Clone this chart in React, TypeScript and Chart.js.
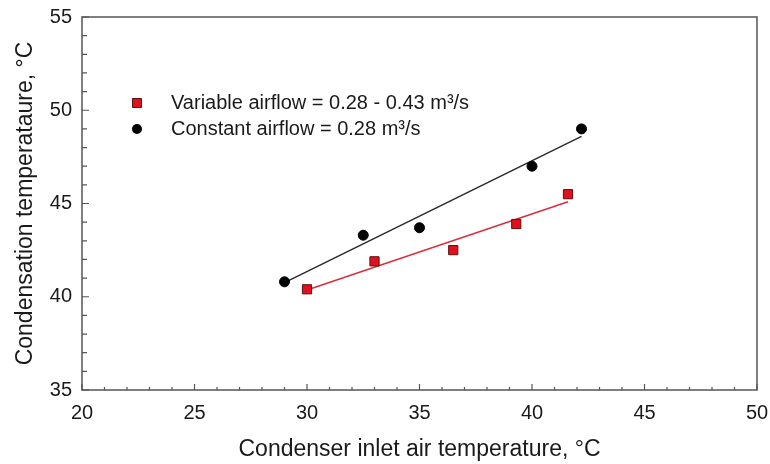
import { useEffect, useRef } from "react";
import { Chart, registerables } from "chart.js";

Chart.register(...registerables);

// Measured condensation temperatures (°C) against condenser inlet air temperature (°C)
const variableInletTemp = [30, 33, 36.5, 39.3, 41.6];
const variableCondTemp = [40.4, 41.9, 42.5, 43.9, 45.5];
const constantInletTemp = [29, 32.5, 35, 40, 42.2];
const constantCondTemp = [40.8, 43.3, 43.7, 47, 49];

const xTickValues = [20, 25, 30, 35, 40, 45, 50];
const yTickValues = [35, 40, 45, 50, 55];

const variableLabel = "Variable airflow = 0.28 - 0.43 m³/s";
const constantLabel = "Constant airflow = 0.28 m³/s";
const xTitle = "Condenser inlet air temperature, °C";
const yTitle = "Condensation temperataure, °C";

const FONT = "'Liberation Sans', Arial, Helvetica, sans-serif";
const TEXT = "#1a1a1a";
const AXIS = "#555555";
const RED = "#e0101e";
const RED_LINE = "#d8303a";

// Least-squares straight line through the points, spanning their x range
function linearFit(xs: number[], ys: number[]) {
  const n = xs.length;
  const mx = xs.reduce((a, b) => a + b, 0) / n;
  const my = ys.reduce((a, b) => a + b, 0) / n;
  let sxy = 0;
  let sxx = 0;
  for (let i = 0; i < n; i++) {
    sxy += (xs[i] - mx) * (ys[i] - my);
    sxx += (xs[i] - mx) * (xs[i] - mx);
  }
  const slope = sxy / sxx;
  const x0 = Math.min(...xs);
  const x1 = Math.max(...xs);
  return [
    { x: x0, y: my + slope * (x0 - mx) },
    { x: x1, y: my + slope * (x1 - mx) },
  ];
}

const toPoints = (xs: number[], ys: number[]) => xs.map((x, i) => ({ x, y: ys[i] }));

// Box frame with inward major/minor ticks
const framePlugin = {
  id: "frame",
  afterDatasetsDraw(chart: any) {
    const { ctx, chartArea, scales } = chart;
    const { left, right, top, bottom } = chartArea;
    ctx.save();
    ctx.strokeStyle = AXIS;
    ctx.lineWidth = 1.5;
    ctx.strokeRect(left, top, right - left, bottom - top);
    ctx.lineWidth = 1.2;
    ctx.beginPath();
    for (let v = 20; v <= 50; v += 1) {
      const px = scales.x.getPixelForValue(v);
      const len = v % 5 === 0 ? 6 : 3;
      ctx.moveTo(px, bottom);
      ctx.lineTo(px, bottom - len);
    }
    for (let v = 35; v <= 55; v += 1) {
      const py = scales.y.getPixelForValue(v);
      const len = v % 5 === 0 ? 7 : 5;
      ctx.moveTo(left, py);
      ctx.lineTo(left + len, py);
    }
    ctx.stroke();
    ctx.restore();
  },
};

// Legend drawn inside the plot area
const innerLegendPlugin = {
  id: "innerLegend",
  afterDraw(chart: any) {
    const { ctx } = chart;
    const items = [
      { ds: chart.data.datasets[0], text: variableLabel, y: 103 },
      { ds: chart.data.datasets[1], text: constantLabel, y: 129 },
    ];
    ctx.save();
    ctx.font = `20px ${FONT}`;
    ctx.textBaseline = "middle";
    ctx.textAlign = "left";
    for (const it of items) {
      ctx.fillStyle = it.ds.backgroundColor;
      ctx.strokeStyle = it.ds.borderColor;
      ctx.lineWidth = it.ds.borderWidth;
      if (it.ds.pointStyle === "rect") {
        ctx.beginPath();
        ctx.rect(137 - 4.5, it.y - 4.5, 9, 9);
        ctx.fill();
        ctx.stroke();
      } else {
        ctx.beginPath();
        ctx.arc(137, it.y, 5, 0, Math.PI * 2);
        ctx.fill();
      }
      ctx.fillStyle = TEXT;
      ctx.fillText(it.text, 171, it.y);
    }
    ctx.restore();
  },
};

// Fixed axis box sizes; label overhang is absorbed by the layout padding
const fixBox = (size: { width?: number; height?: number }) => (scale: any) => {
  if (size.width !== undefined) scale.width = size.width;
  if (size.height !== undefined) scale.height = size.height;
  scale.paddingLeft = 0;
  scale.paddingRight = 0;
  scale.paddingTop = 0;
  scale.paddingBottom = 0;
};

export default function App() {
  const canvasRef = useRef<HTMLCanvasElement | null>(null);

  useEffect(() => {
    document.body.style.margin = "0";
    const canvas = canvasRef.current;
    if (!canvas) return;

    const chart = new Chart(canvas, {
      type: "scatter",
      data: {
        datasets: [
          {
            label: variableLabel,
            data: toPoints(variableInletTemp, variableCondTemp),
            pointStyle: "rect",
            pointRadius: 6.5,
            backgroundColor: RED,
            borderColor: "#5a1010",
            borderWidth: 1,
            order: 1,
          },
          {
            label: constantLabel,
            data: toPoints(constantInletTemp, constantCondTemp),
            pointStyle: "circle",
            pointRadius: 5,
            backgroundColor: "#000000",
            borderColor: "#000000",
            borderWidth: 1,
            order: 1,
          },
          {
            type: "line",
            label: "variable fit",
            data: linearFit(variableInletTemp, variableCondTemp),
            borderColor: RED_LINE,
            borderWidth: 1.5,
            pointRadius: 0,
            showLine: true,
            fill: false,
            order: 2,
          },
          {
            type: "line",
            label: "constant fit",
            data: linearFit(constantInletTemp, constantCondTemp),
            borderColor: "#2a2a2a",
            borderWidth: 1.5,
            pointRadius: 0,
            showLine: true,
            fill: false,
            order: 2,
          },
        ] as any,
      },
      options: {
        animation: false,
        responsive: false,
        maintainAspectRatio: false,
        layout: { padding: { left: 0, top: 17, right: 13, bottom: 0 } },
        plugins: {
          legend: { display: false },
          tooltip: { enabled: false },
        },
        scales: {
          x: {
            type: "linear",
            min: 20,
            max: 50,
            afterBuildTicks: (scale: any) => {
              scale.ticks = xTickValues.map((value) => ({ value }));
            },
            afterFit: fixBox({ height: 74 }),
            grid: { display: false, drawTicks: false },
            border: { display: false },
            ticks: {
              color: TEXT,
              font: { family: FONT, size: 20 },
              padding: 11,
              maxRotation: 0,
            },
            title: {
              display: true,
              text: xTitle,
              color: TEXT,
              font: { family: FONT, size: 23 },
              padding: { top: 0, bottom: 1 },
            },
          },
          y: {
            type: "linear",
            min: 35,
            max: 55,
            afterBuildTicks: (scale: any) => {
              scale.ticks = yTickValues.map((value) => ({ value }));
            },
            afterFit: fixBox({ width: 82 }),
            grid: { display: false, drawTicks: false },
            border: { display: false },
            ticks: {
              color: TEXT,
              font: { family: FONT, size: 20 },
              padding: 10,
            },
            title: {
              display: true,
              text: yTitle,
              color: TEXT,
              font: { family: FONT, size: 23 },
              padding: { top: 12, bottom: 0 },
            },
          },
        },
      },
      plugins: [framePlugin, innerLegendPlugin],
    });

    return () => chart.destroy();
  }, []);

  return (
    <div style={{ width: 770, height: 464, background: "#ffffff" }}>
      <canvas ref={canvasRef} width={770} height={464} />
    </div>
  );
}
